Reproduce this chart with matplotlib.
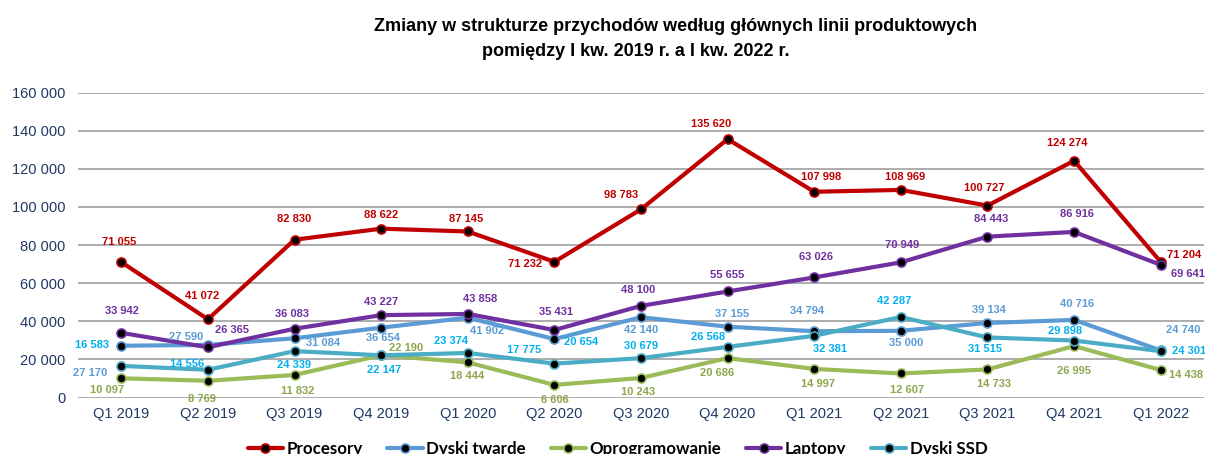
import matplotlib
matplotlib.use("Agg")
import matplotlib.pyplot as plt
from matplotlib.ticker import FuncFormatter, MultipleLocator

# ---------------- data ----------------
quarters = ["Q1 2019", "Q2 2019", "Q3 2019", "Q4 2019", "Q1 2020", "Q2 2020", "Q3 2020",
            "Q4 2020", "Q1 2021", "Q2 2021", "Q3 2021", "Q4 2021", "Q1 2022"]

procesory = [71055, 41072, 82830, 88622, 87145, 71232, 98783, 135620, 107998, 108969, 100727, 124274, 71204]
dyski_twarde = [27170, 27590, 31084, 36654, 41902, 30679, 42140, 37155, 34794, 35000, 39134, 40716, 24740]
oprogramowanie = [10097, 8769, 11832, 22190, 18444, 6606, 10243, 20686, 14997, 12607, 14733, 26995, 14438]
laptopy = [33942, 26365, 36083, 43227, 43858, 35431, 48100, 55655, 63026, 70949, 84443, 86916, 69641]
dyski_ssd = [16583, 14556, 24339, 22147, 23374, 17775, 20654, 26568, 32381, 42287, 31515, 29898, 24301]

# data-label texts as printed next to each point of each series
lbl_procesory = ["71 055", "41 072", "82 830", "88 622", "87 145", "71 232", "98 783", "135 620",
                 "107 998", "108 969", "100 727", "124 274", "71 204"]
lbl_dyski_twarde = ["27 170", "27 590", "31 084", "36 654", "41 902", "20 654", "42 140", "37 155",
                    "34 794", "35 000", "39 134", "40 716", "24 740"]
lbl_oprogramowanie = ["10 097", "8 769", "11 832", "22 190", "18 444", "6 606", "10 243", "20 686",
                      "14 997", "12 607", "14 733", "26 995", "14 438"]
lbl_laptopy = ["33 942", "26 365", "36 083", "43 227", "43 858", "35 431", "48 100", "55 655",
               "63 026", "70 949", "84 443", "86 916", "69 641"]
lbl_dyski_ssd = ["16 583", "14 556", "24 339", "22 147", "23 374", "17 775", "30 679", "26 568",
                 "32 381", "42 287", "31 515", "29 898", "24 301"]

series_names = ["Procesory", "Dyski twarde", "Oprogramowanie", "Laptopy", "Dyski SSD"]

# ---------------- styles ----------------
line_colors = {"Procesory": "#C00000", "Dyski twarde": "#5B9BD5", "Oprogramowanie": "#9BBB59",
               "Laptopy": "#7030A0", "Dyski SSD": "#4BACC6"}
label_colors = {"Procesory": "#C00000", "Dyski twarde": "#5B9BD5", "Oprogramowanie": "#8DA64C",
                "Laptopy": "#7030A0", "Dyski SSD": "#00B0F0"}
label_color_override = {("Dyski twarde", 5): "#00B0F0"}

# label offsets in screen pixels (dx right, dy down)
off_procesory = [(-2, -20), (-6, -23), (0, -21), (0, -14), (-2, -12), (-29, 2), (-20, -14), (-16, -15),
                 (7, -15), (4, -13), (-3, -18), (-7, -18), (23, -7)]
off_dyski_twarde = [(-31, 27), (-22, -8), (29, 5), (2, 10), (19, 13), (27, 3), (0, 13), (4, -13),
                    (-7, -20), (5, 12), (1, -13), (3, -16), (22, -20)]
off_oprogramowanie = [(-14, 12), (-6, 18), (3, 16), (25, -7), (-1, 14), (0, 15), (-3, 14), (-11, 15),
                      (4, 15), (6, 17), (7, 15), (0, 25), (25, 5)]
off_laptopy = [(1, -22), (24, -17), (-3, -15), (0, -13), (12, -15), (2, -18), (-3, -16), (0, -16),
               (2, -20), (1, -17), (4, -18), (3, -18), (27, 9)]
off_dyski_ssd = [(-29, -21), (-21, -6), (-1, 14), (3, 15), (-17, -12), (-30, -14), (0, -12), (-20, -10),
                 (16, 13), (-7, -16), (-2, 12), (-9, -10), (28, 0)]

values = {"Procesory": procesory, "Dyski twarde": dyski_twarde, "Oprogramowanie": oprogramowanie,
          "Laptopy": laptopy, "Dyski SSD": dyski_ssd}
labels = {"Procesory": lbl_procesory, "Dyski twarde": lbl_dyski_twarde, "Oprogramowanie": lbl_oprogramowanie,
          "Laptopy": lbl_laptopy, "Dyski SSD": lbl_dyski_ssd}
offsets = {"Procesory": off_procesory, "Dyski twarde": off_dyski_twarde, "Oprogramowanie": off_oprogramowanie,
           "Laptopy": off_laptopy, "Dyski SSD": off_dyski_ssd}

W, H = 1205, 454
fig = plt.figure(figsize=(W / 100, H / 100), dpi=100)
ax = fig.add_axes([78 / W, 1 - 397.5 / H, (1204 - 78) / W, (397.5 - 92.7) / H])

x = list(range(len(quarters)))
handles = []
for name in series_names:
    c = line_colors[name]
    ln, = ax.plot(x, values[name], color=c, lw=3.0, marker="o", markersize=6.5,
                  markerfacecolor="black", markeredgecolor=c, markeredgewidth=1.2,
                  solid_capstyle="round", zorder=3)
    handles.append(ln)

for name in series_names:
    for i, (v, t, (dx, dy)) in enumerate(zip(values[name], labels[name], offsets[name])):
        col = label_color_override.get((name, i), label_colors[name])
        ax.annotate(t, (x[i], v), xytext=(dx, -dy), textcoords="offset pixels",
                    ha="center", va="center", fontsize=8, fontweight="bold",
                    family="Liberation Sans", color=col, zorder=5)

ax.set_xlim(-0.5, len(quarters) - 0.5)
ax.set_ylim(0, 160000)
ax.yaxis.set_major_locator(MultipleLocator(20000))
ax.yaxis.set_major_formatter(FuncFormatter(lambda v, p: f"{int(v):,}".replace(",", " ")))
ax.set_xticks(x)
ax.set_xticklabels(quarters)
tick_col = "#203864"
ax.tick_params(axis="both", length=0, labelsize=10.5, labelcolor=tick_col)
ax.tick_params(axis="y", pad=9)
ax.tick_params(axis="x", pad=7)
for lab in ax.get_xticklabels() + ax.get_yticklabels():
    lab.set_family("Liberation Sans")
ax.grid(axis="y", color="#A0A0A0", lw=1.2, zorder=0)
ax.set_axisbelow(True)
for s in ax.spines.values():
    s.set_visible(False)

fig.text(676 / W, 1 - 31 / H, "Zmiany w strukturze przychodów według głównych linii produktowych",
         ha="center", va="baseline", fontsize=13, fontweight="bold", family="Liberation Sans")
fig.text(636 / W, 1 - 56 / H, "pomiędzy I kw. 2019 r. a I kw. 2022 r.",
         ha="center", va="baseline", fontsize=13, fontweight="bold", family="Liberation Sans")

leg = fig.legend(handles, series_names, loc="center", bbox_to_anchor=(617.5 / W, 1 - 449 / H),
                 ncol=5, frameon=False, handlelength=2.1, handletextpad=0.2, columnspacing=1.45,
                 prop={"family": "Lato", "weight": "bold", "size": 12.2})

fig.savefig("out.png", dpi=100)
